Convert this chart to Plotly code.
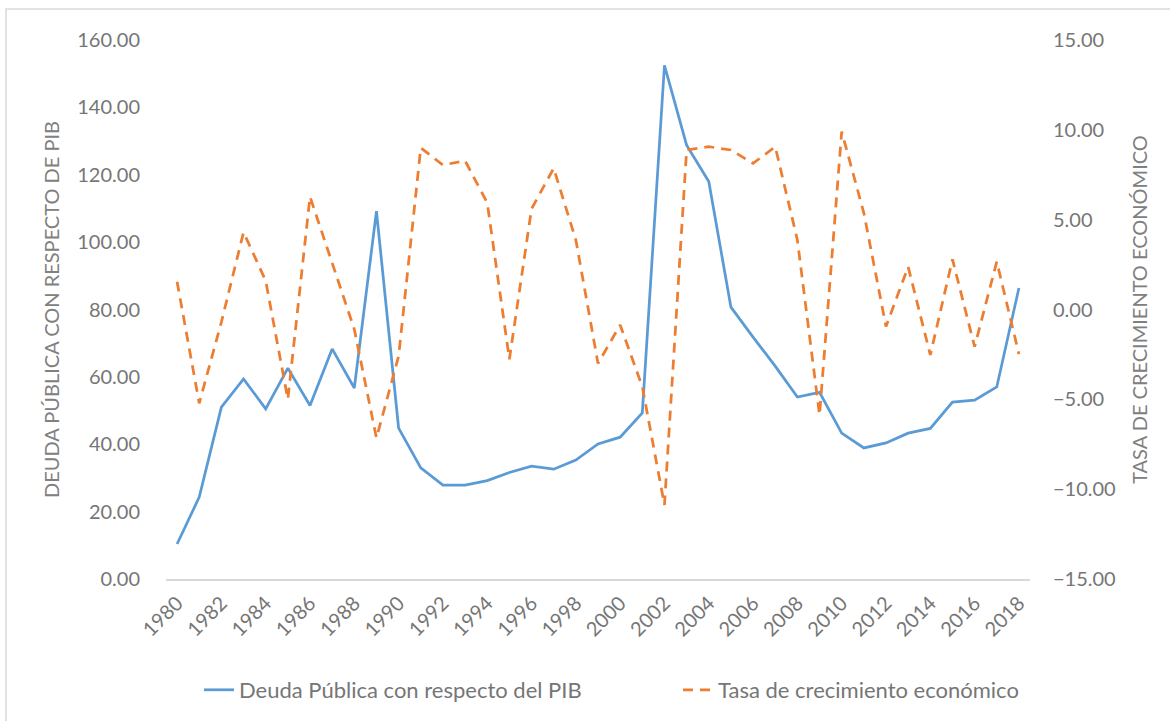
import plotly.graph_objects as go

years = list(range(1980, 2019))
deuda_pib = [10.4, 24.3, 51.0, 59.4, 50.5, 62.6, 51.5, 68.3, 56.7, 109.2,
             44.8, 33.0, 27.9, 27.9, 29.2, 31.6, 33.5, 32.6, 35.3, 40.1,
             42.1, 49.3, 152.5, 128.8, 118.0, 80.7, 71.8, 63.2, 54.0, 55.4,
             43.3, 38.9, 40.4, 43.3, 44.7, 52.5, 53.1, 57.0, 86.4]
crecimiento = [1.55, -5.22, -0.7, 4.3, 1.6, -5.0, 6.28, 2.6, -1.1, -7.15,
               -2.6, 9.0, 8.04, 8.28, 5.94, -2.77, 5.6, 7.86, 3.87, -3.0,
               -0.86, -4.3, -10.88, 8.88, 9.06, 8.88, 8.13, 9.06, 3.87, -5.87,
               9.9, 5.37, -0.95, 2.38, -2.53, 2.79, -2.07, 2.66, -2.48]

name_deuda = "Deuda Pública con respecto del PIB"
name_crec = "Tasa de crecimiento económico"
title_left = "DEUDA PÚBLICA CON RESPECTO DE PIB"
title_right = "TASA DE CRECIMIENTO ECONÓMICO"
xtick_vals = list(range(1980, 2019, 2))

blue = "#5B9BD5"
orange = "#ED7D31"
txt = "#767676"
font_family = "Lato, Carlito, Calibri, sans-serif"

L, R, T, B = 166, 140, 40, 142
W, H = 1170, 721
pw = W - L - R
ph = H - T - B


def px_x(x):
    return (x - L) / pw


def px_y(y):
    return (H - B - y) / ph


fig = go.Figure()
fig.add_trace(go.Scatter(x=years, y=deuda_pib, name=name_deuda, mode="lines",
                         line=dict(color=blue, width=2.75), yaxis="y", legend="legend"))
fig.add_trace(go.Scatter(x=years, y=crecimiento, name=name_crec, mode="lines",
                         line=dict(color=orange, width=2.75, dash="10px,7px"),
                         yaxis="y2", legend="legend2"))

leg_common = dict(orientation="h", yanchor="middle", xanchor="left",
                  font=dict(size=22, color=txt), bgcolor="rgba(0,0,0,0)",
                  borderwidth=0)

fig.update_layout(
    width=W, height=H,
    margin=dict(l=L, r=R, t=T, b=B, autoexpand=False),
    paper_bgcolor="white", plot_bgcolor="white",
    font=dict(family=font_family, color=txt, size=20),
    showlegend=True,
    legend=dict(x=px_x(199), y=px_y(690), **leg_common),
    legend2=dict(x=px_x(678), y=px_y(690), **leg_common),
    xaxis=dict(range=[1979.5, 2018.5], tickmode="array", tickvals=xtick_vals,
               ticktext=[str(v) for v in xtick_vals], tickangle=-45,
               showgrid=False, zeroline=False, showline=True, linecolor="#D9D9D9",
               linewidth=1.5, ticks="", tickfont=dict(size=20, color=txt),
               ticklabelstandoff=3, automargin=False),
    yaxis=dict(range=[0, 160], dtick=20, tick0=0, tickformat=".2f", showgrid=False,
               zeroline=False, showline=False, ticks="", tickfont=dict(size=20, color=txt),
               ticklabelstandoff=25,
               title=dict(text=title_left, font=dict(size=20, color="#808080"), standoff=12),
               automargin=False),
    yaxis2=dict(range=[-15, 15], dtick=5, tick0=-15, tickformat=".2f", overlaying="y",
                side="right", showgrid=False, zeroline=False, showline=False, ticks="",
                tickfont=dict(size=20, color=txt), ticklabelstandoff=22,
                title=dict(text=title_right, font=dict(size=20, color="#808080"), standoff=18),
                automargin=False),
    shapes=[dict(type="rect", xref="paper", yref="paper",
                 x0=px_x(6), x1=px_x(1190), y0=px_y(740), y1=px_y(9),
                 line=dict(color="#D9D9D9", width=1.5), fillcolor="rgba(0,0,0,0)",
                 layer="below")],
)

fig.write_html("out.html", config={"displayModeBar": False},
               post_script="document.body.style.margin='0';document.body.style.overflow='hidden';")
